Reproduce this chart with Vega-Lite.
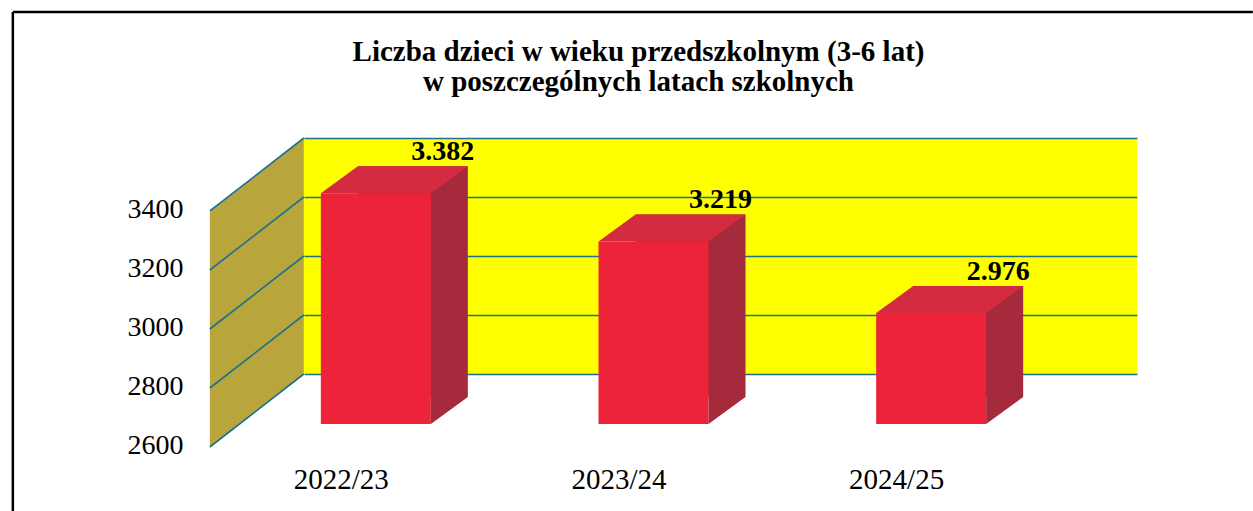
{
  "$schema": "https://vega.github.io/schema/vega-lite/v6.json",
  "width": 833,
  "height": 236,
  "autosize": {"type": "none"},
  "padding": {"left": 304, "top": 138, "right": 116, "bottom": 137},
  "background": "white",
  "config": {"view": {"fill": "#ffff00", "stroke": null}, "font": "Liberation Serif"},
  "title": {
    "text": ["Liczba dzieci w wieku przedszkolnym (3-6 lat)", "w poszczególnych latach szkolnych"],
    "font": "Liberation Serif",
    "fontSize": 29,
    "fontWeight": "bold",
    "color": "black",
    "anchor": "middle",
    "dx": -82,
    "dy": 90,
    "offset": 0,
    "lineHeight": 30
  },
  "data": {
    "values": [
      {"rok": "2022/23", "liczba": 3382, "etykieta": "3.382"},
      {"rok": "2023/24", "liczba": 3219, "etykieta": "3.219"},
      {"rok": "2024/25", "liczba": 2976, "etykieta": "2.976"}
    ]
  },
  "layer": [
    {
      "data": {"values": [{}]},
      "mark": {"type": "point", "shape": "M0,0L0,-236L-94,-162L-94,73Z", "size": 4, "filled": true, "fill": "#b8a63c", "strokeWidth": 0, "opacity": 1, "xOffset": -139},
      "encoding": {"x": {"datum": "2022/23"}, "y": {"datum": 2600}}
    },
    {
      "data": {"values": [{}]},
      "mark": {"type": "point", "shape": "M0,0L-94,73M0,-59L-94,14M0,-118L-94,-45M0,-177L-94,-104M0,-236L-94,-163", "size": 4, "filled": false, "color": "#1d6f8e", "strokeWidth": 1.6, "opacity": 1, "xOffset": -139},
      "encoding": {"x": {"datum": "2022/23"}, "y": {"datum": 2600}}
    },
    {
      "data": {"values": [{}]},
      "mark": {"type": "point", "shape": "M-291,-126L949,-126M-291,-126L-291,373", "size": 4, "filled": false, "color": "black", "strokeWidth": 2.5, "opacity": 1, "xOffset": -139},
      "encoding": {"x": {"datum": "2022/23"}, "y": {"datum": 3400}}
    },
    {
      "mark": {"type": "bar", "width": 110, "color": "#a52a3c", "xOffset": -30, "yOffset": 23, "y2Offset": 23},
      "encoding": {
        "x": {
          "field": "rok",
          "type": "nominal",
          "scale": {"paddingInner": 0.6, "paddingOuter": 0.3},
          "axis": {"title": null, "domain": false, "ticks": false, "grid": false, "labelAngle": 0, "labelFontSize": 29, "labelFont": "Liberation Serif", "labelColor": "black", "labelOffset": -54, "offset": 101, "labelPadding": 4}
        },
        "y": {
          "field": "liczba",
          "type": "quantitative",
          "scale": {"domain": [2600, 3400], "nice": false, "zero": false},
          "axis": {"title": null, "values": [2600, 2800, 3000, 3200, 3400], "format": "d", "grid": true, "gridColor": "#1d6f8e", "gridWidth": 1.6, "domain": false, "ticks": false, "labelFontSize": 28, "labelFont": "Liberation Serif", "labelColor": "black", "labelOffset": 71, "offset": 111, "labelPadding": 10}
        },
        "y2": {"datum": 2600}
      }
    },
    {
      "mark": {"type": "bar", "width": 110, "color": "#ec2339", "xOffset": -67, "yOffset": 50, "y2Offset": 50},
      "encoding": {
        "x": {"field": "rok", "type": "nominal"},
        "y": {"field": "liczba", "type": "quantitative"},
        "y2": {"datum": 2600}
      }
    },
    {
      "mark": {"type": "point", "shape": "M-55,0L55,0L92,-27L-18,-27Z", "size": 4, "filled": true, "fill": "#d42b40", "strokeWidth": 0, "opacity": 1, "xOffset": -67, "yOffset": 50},
      "encoding": {
        "x": {"field": "rok", "type": "nominal"},
        "y": {"field": "liczba", "type": "quantitative"}
      }
    },
    {
      "mark": {"type": "point", "shape": "M55,-27L92,-27L55,0Z", "size": 4, "filled": true, "fill": "#a52a3c", "strokeWidth": 0, "opacity": 1, "xOffset": -67, "yOffset": 50},
      "encoding": {
        "x": {"field": "rok", "type": "nominal"},
        "y": {"datum": 2600}
      }
    },
    {
      "mark": {"type": "text", "font": "Liberation Serif", "fontSize": 28, "fontWeight": "bold", "color": "black", "baseline": "alphabetic", "yOffset": 17},
      "encoding": {
        "x": {"field": "rok", "type": "nominal"},
        "y": {"field": "liczba", "type": "quantitative"},
        "text": {"field": "etykieta"}
      }
    }
  ]
}
